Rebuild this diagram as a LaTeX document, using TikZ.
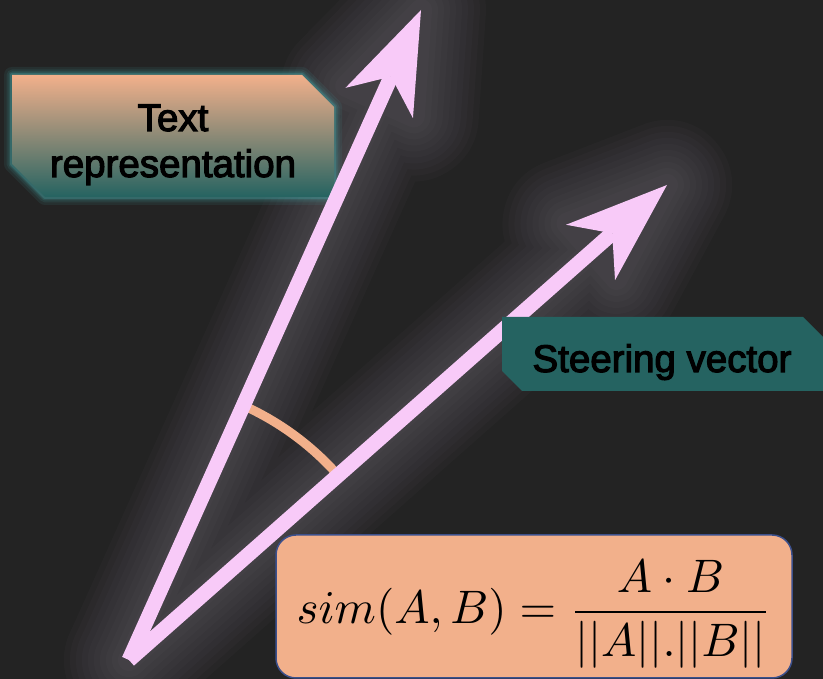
\documentclass[tikz,border=0pt]{standalone}
\usepackage{fontspec}
\usetikzlibrary{arrows.meta,calc}
\newfontfamily\lblfont{Liberation Sans}[FakeBold=3]
\definecolor{bgc}{RGB}{35,35,35}
\definecolor{arrowc}{RGB}{248,202,248}
\definecolor{glowc}{RGB}{210,188,218}
\definecolor{orng}{RGB}{242,176,139}
\definecolor{tealc}{RGB}{37,99,97}
\definecolor{tealglow}{RGB}{70,165,165}
\definecolor{bordc}{RGB}{60,80,140}
\tikzset{
  vec/.style={arrowc, line width=15pt, line cap=butt,
    -{Stealth[length=102pt,width=74pt,inset=29pt,line width=0pt]}},
  halo/.style={glowc, line width=#1, line cap=round, line join=round},
  lbl/.style={font=\lblfont\fontsize{38.5}{46}\selectfont, text=black, inner sep=0pt},
  anglearc/.style={orng, line width=9pt},
  formbox/.style={draw=bordc, fill=orng, line width=1.5pt, rounded corners=20pt},
  tealhalo/.style={tealglow, line width=#1, line join=round}
}
\begin{document}
\begin{tikzpicture}[x=1pt,y=1pt]
\useasboundingbox (0,0) rectangle (823,679);
\clip (0,0) rectangle (823,679);
\fill[bgc] (0,0) rectangle (823,679);

\coordinate (O) at (129,19);
\coordinate (T1) at (421,669);
\coordinate (T2) at (667,494);
\coordinate (B1) at ($(T1)!100pt!(O)$);
\coordinate (L1) at ($(B1)!37pt!90:(T1)$);
\coordinate (R1) at ($(B1)!37pt!-90:(T1)$);
\coordinate (B2) at ($(T2)!100pt!(O)$);
\coordinate (L2) at ($(B2)!37pt!90:(T2)$);
\coordinate (R2) at ($(B2)!37pt!-90:(T2)$);

% glow of the vectors
\foreach \w in {130,118,...,22}{
  \begin{scope}[transparency group, opacity=0.022]
    \filldraw[halo=\w pt] (O) -- (T1) (L1) -- (T1) -- (R1) -- cycle;
    \filldraw[halo=\w pt] (O) -- (T2) (L2) -- (T2) -- (R2) -- cycle;
  \end{scope}
}

% text representation box
\foreach \w/\o in {16/0.1, 11/0.12, 7/0.18, 4/0.3}{
  \draw[tealhalo=\w pt, opacity=\o] (12,604) -- (302,604) -- (334,572) -- (334,482) -- (45,482) -- (12,515) -- cycle;
}
\shade[top color=orng, bottom color=tealc] (12,604) -- (302,604) -- (334,572) -- (334,482) -- (45,482) -- (12,515) -- cycle;
\node[lbl, anchor=base] (txt1) at (173,548) {Text};
\node[lbl, anchor=base] (txt2) at (173,502) {representation};

% angle arc
\coordinate (A0) at ($(O)+(41.4:279pt)$);
\draw[anglearc] (A0) arc[start angle=41.4, end angle=65.8, radius=279pt];

% vectors
\draw[vec] (O) -- (T1);
\draw[vec] (O) -- (T2);

% steering vector box
\fill[tealc] (502,362) -- (803,362) -- (833,332) -- (833,288) -- (522,288) -- (502,308) -- cycle;
\node[lbl, anchor=base] (sv) at (662,307) {Steering vector};

% formula box
\draw[formbox] (276,1) rectangle (792,144);
\node[anchor=base, scale=4.7, inner sep=0pt] (sim) at (534,55)
  {$\displaystyle sim(A,B) = \frac{A\cdot B}{||A||.||B||}$};
\end{tikzpicture}
\end{document}
